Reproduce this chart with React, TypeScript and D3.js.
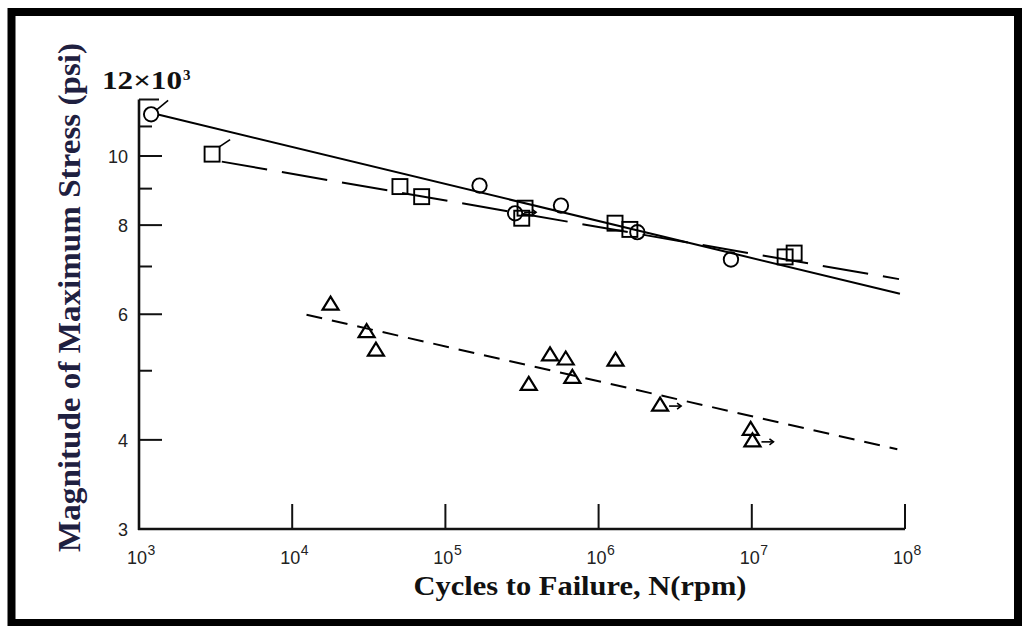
import React from "react";
import * as d3 from "d3";

const width = 1022;
const height = 626;

// Fatigue test results: cycles to failure (N) and magnitude of maximum stress (×10³ psi)
const circleN = [1.2e3, 1.67e5, 2.85e5, 5.68e5, 1.79e6, 7.31e6];
const circleS = [11.44, 9.09, 8.31, 8.52, 7.82, 7.16];

const squareN = [3.0e3, 5.05e4, 7.0e4, 3.31e5, 3.15e5, 1.28e6, 1.6e6, 1.65e7, 1.89e7];
const squareS = [10.06, 9.06, 8.77, 8.45, 8.18, 8.05, 7.89, 7.22, 7.31];

const triangleN = [1.78e4, 3.06e4, 3.52e4, 4.82e5, 6.1e5, 1.29e6, 3.5e5, 6.74e5, 2.52e6, 9.83e6, 1.01e7];
const triangleS = [6.22, 5.69, 5.36, 5.28, 5.21, 5.19, 4.8, 4.91, 4.49, 4.15, 4.0];

// Specimens marked with a flag or a run-out arrow (indices into each group)
const circleFlags = [0];
const circleArrows = [2];
const squareFlags = [0];
const triangleArrows = [8, 10];

// Fitted S-N lines, given by their two end points
const solidFitN = [1.33e3, 9.27e7];
const solidFitS = [11.43, 6.41];
const longDashFitN = [3.47e3, 9.14e7];
const longDashFitS = [9.82, 6.72];
const shortDashFitN = [1.24e4, 8.91e7];
const shortDashFitS = [5.99, 3.88];

// Axis ticks
const xTickExponents = [3, 4, 5, 6, 7, 8];
const yMajorTicks = [4, 6, 8, 10];
const yMinorTicks = [5, 7, 9, 11];
const yTickLabels = [3, 4, 6, 8, 10];
const yTopValue = 12;

const x = d3.scaleLog().domain([1e3, 1e8]).range([139, 905]);
const y = d3.scaleLog().domain([3, 12]).range([529, 99.5]);

const line = d3
  .line<[number, number]>()
  .x((d) => x(d[0]))
  .y((d) => y(d[1]));

const zip = (a: number[], b: number[]): [number, number][] => a.map((v, i) => [v, b[i]]);

const serif = "'Liberation Serif', 'Times New Roman', serif";
const sans = "'Liberation Sans', Arial, sans-serif";

function Arrow({ cx, cy }: { cx: number; cy: number }) {
  return (
    <g stroke="#000" strokeWidth={1.6} fill="none">
      <line x1={cx + 9} y1={cy} x2={cx + 21} y2={cy} />
      <polyline points={`${cx + 17},${cy - 3} ${cx + 21},${cy} ${cx + 17},${cy + 3}`} />
    </g>
  );
}

export default function App() {
  const xAxisY = y(3);
  const yAxisX = x(1e3);
  return (
    <svg
      width={width}
      height={height}
      style={{ position: "absolute", left: 0, top: 0, background: "#fff" }}
    >
      <rect x={0} y={0} width={width} height={height} fill="#fff" />
      {/* outer frame */}
      <rect x={11.5} y={12} width={1006.5} height={611} fill="none" stroke="#000" strokeWidth={8} />

      {/* axes */}
      <g stroke="#111" fill="none">
        <line x1={yAxisX} y1={y(yTopValue)} x2={yAxisX} y2={xAxisY + 1} strokeWidth={2.6} />
        <line x1={yAxisX - 1} y1={xAxisY} x2={x(1e8)} y2={xAxisY} strokeWidth={2.6} />
        {xTickExponents.slice(1).map((e) => (
          <line key={e} x1={x(10 ** e)} x2={x(10 ** e)} y1={xAxisY} y2={xAxisY - 25} strokeWidth={2} />
        ))}
        {yMajorTicks.map((v) => (
          <line key={v} x1={yAxisX} x2={yAxisX + 23} y1={y(v)} y2={y(v)} strokeWidth={2} />
        ))}
        {yMinorTicks.map((v) => (
          <line key={v} x1={yAxisX} x2={yAxisX + 13} y1={y(v)} y2={y(v)} strokeWidth={2} />
        ))}
        <line x1={yAxisX} x2={yAxisX + 20} y1={y(yTopValue)} y2={y(yTopValue)} strokeWidth={2} />
      </g>

      {/* tick labels */}
      <g fontFamily={sans} fill="#222">
        {yTickLabels.map((v) => (
          <text key={v} x={128} y={y(v) + 7} fontSize={18} textAnchor="end">
            {v}
          </text>
        ))}
        {xTickExponents.map((e) => (
          <g key={e}>
            <text x={x(10 ** e) + 8} y={564} fontSize={18} textAnchor="end">
              10
            </text>
            <text x={x(10 ** e) + 8.5} y={555} fontSize={14} textAnchor="start">
              {e}
            </text>
          </g>
        ))}
      </g>
      <text x={102} y={89} fontFamily={serif} fontWeight="bold" fontSize={25} fill="#111" textLength={80} lengthAdjust="spacingAndGlyphs">
        12×10
      </text>
      <text x={183} y={80} fontFamily={serif} fontWeight="bold" fontSize={15} fill="#111">
        3
      </text>

      {/* axis titles */}
      <text
        x={580}
        y={595}
        textAnchor="middle"
        fontFamily={serif}
        fontWeight="bold"
        fontSize={27}
        fill="#111"
        textLength={333}
        lengthAdjust="spacingAndGlyphs"
      >
        Cycles to Failure, N(rpm)
      </text>
      <text
        transform="translate(80,297.5) rotate(-90)"
        textAnchor="middle"
        fontFamily={serif}
        fontWeight="bold"
        fontSize={32}
        fill="#1f2040"
        textLength={509}
        lengthAdjust="spacingAndGlyphs"
      >
        Magnitude of Maximum Stress (psi)
      </text>

      {/* fitted lines */}
      <g fill="none" stroke="#000" strokeWidth={2}>
        <path d={line(zip(solidFitN, solidFitS)) || ""} />
        <path d={line(zip(longDashFitN, longDashFitS)) || ""} strokeDasharray="46 15" />
        <path d={line(zip(shortDashFitN, shortDashFitS)) || ""} strokeDasharray="16 10" />
      </g>

      {/* data markers */}
      <g fill="none" stroke="#000" strokeWidth={1.9}>
        {zip(circleN, circleS).map(([n, s], i) => (
          <circle key={`c${i}`} cx={x(n)} cy={y(s)} r={7.2} />
        ))}
        {zip(squareN, squareS).map(([n, s], i) => (
          <rect key={`s${i}`} x={x(n) - 7.5} y={y(s) - 7.5} width={15} height={15} />
        ))}
        {zip(triangleN, triangleS).map(([n, s], i) => {
          const cx = x(n);
          const cy = y(s);
          return (
            <path
              key={`t${i}`}
              d={`M${cx - 8},${cy + 6.5}L${cx},${cy - 6.5}L${cx + 8},${cy + 6.5}Z`}
              strokeWidth={2.2}
              strokeLinejoin="miter"
            />
          );
        })}
        {circleFlags.map((i) => (
          <line
            key={`cf${i}`}
            x1={x(circleN[i]) + 5.5}
            y1={y(circleS[i]) - 4.5}
            x2={x(circleN[i]) + 17}
            y2={y(circleS[i]) - 14}
            strokeWidth={1.6}
          />
        ))}
        {squareFlags.map((i) => (
          <line
            key={`sf${i}`}
            x1={x(squareN[i]) + 7.5}
            y1={y(squareS[i]) - 7.5}
            x2={x(squareN[i]) + 18}
            y2={y(squareS[i]) - 14.5}
            strokeWidth={1.6}
          />
        ))}
      </g>
      {circleArrows.map((i) => (
        <Arrow key={`ca${i}`} cx={x(circleN[i])} cy={y(circleS[i]) - 1} />
      ))}
      {triangleArrows.map((i) => (
        <Arrow key={`ta${i}`} cx={x(triangleN[i])} cy={y(triangleS[i]) + 2} />
      ))}
    </svg>
  );
}
